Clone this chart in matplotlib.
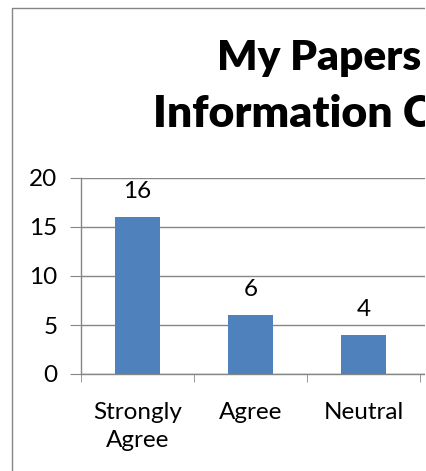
import numpy as np
import matplotlib.pyplot as plt
from matplotlib.patches import Rectangle

# visible part of the chart (the right side is cropped off)
categories = ['Strongly\nAgree', 'Agree', 'Neutral']
counts = [16, 6, 4]
title_line1 = 'My Papers'
title_line2 = 'Information Co'

bar_color = '#4F81BD'
grid_color = '#868686'

plt.rcParams['font.family'] = ['Lato', 'DejaVu Sans']
W, H = 427, 471
fig = plt.figure(figsize=(W / 100, H / 100), dpi=100)

# background axes in pixel units, used for the chart-area border
bg = fig.add_axes([0, 0, 1, 1])
bg.set_xlim(0, W)
bg.set_ylim(H, 0)
bg.axis('off')
bg.plot([12.5, 12.5, W + 20], [H + 20, 7.5, 7.5], color=grid_color, linewidth=1.0)

# axes: 113 px per category, xlim -0.5..4.5 so it runs past the crop
px_per_cat = 113
ax = fig.add_axes([81 / W, 97 / H, 5 * px_per_cat / W, 196 / H])
x = np.arange(len(categories))
bars = ax.bar(x, counts, width=0.4, color=bar_color, zorder=3)

ax.set_xlim(-0.5, 4.5)
ax.set_ylim(0, 20)
ax.set_yticks([0, 5, 10, 15, 20])
ax.yaxis.grid(True, color=grid_color, linewidth=1.0, zorder=0)

ax.set_xticks(x)
ax.set_xticklabels(categories, fontsize=17.5, linespacing=1.4)
ax.set_xticks(np.arange(-0.5, 3, 1), minor=True)
ax.tick_params(axis='x', which='major', length=0, pad=20)
ax.tick_params(axis='x', which='minor', length=6, color=grid_color, direction='out')
ax.tick_params(axis='y', length=8, color=grid_color, labelsize=17.5, pad=9)

for s in ['top', 'right']:
    ax.spines[s].set_visible(False)
for s in ['left', 'bottom']:
    ax.spines[s].set_color(grid_color)
    ax.spines[s].set_linewidth(1.0)

for b, v in zip(bars, counts):
    ax.annotate(str(v), (b.get_x() + b.get_width() / 2, v), xytext=(0, 11),
                textcoords='offset points', ha='center', va='bottom', fontsize=17.5)

fig.text(217 / W, 1 - 70 / H, title_line1, fontsize=30.5, fontweight='heavy',
         ha='left', va='baseline')
fig.text(153 / W, 1 - 127 / H, title_line2, fontsize=32, fontweight='heavy',
         ha='left', va='baseline')

# white strip over the last pixel columns at the cropped right edge
fig.add_artist(Rectangle((1 - 1.5 / W, 0), 2 / W, 1, transform=fig.transFigure,
                         facecolor='white', edgecolor='none', zorder=100))

fig.savefig('out.png', dpi=100)
